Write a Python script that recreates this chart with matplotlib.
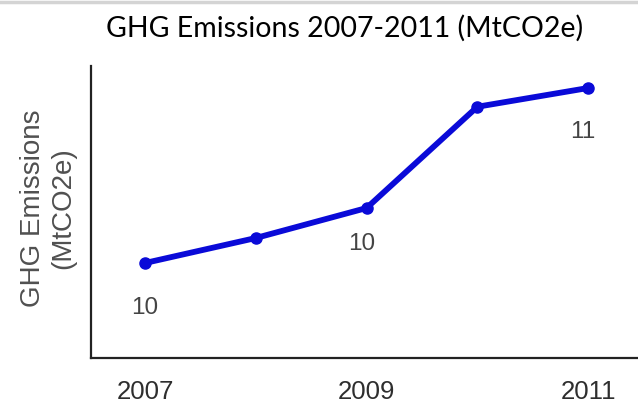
import matplotlib
matplotlib.use("Agg")
import matplotlib.pyplot as plt
from matplotlib.lines import Line2D

# data
years = [2007, 2008, 2009, 2010, 2011]
emissions = [10.0, 10.2, 10.44, 11.25, 11.4]
labelled_years = [2007, 2009, 2011]
label_offsets = [(0, -45), (-5, -36), (-5, -44)]  # pixels below the point
tick_years = [2007, 2009, 2011]

fig = plt.figure(figsize=(6.38, 4.05), dpi=100)
ax = fig.add_axes([91 / 638, 47 / 405, 1 - 91 / 638, 292 / 405])

ax.plot(years, emissions, color="#0a0ad8", linewidth=4.2, marker="o",
        markersize=8, solid_capstyle="round", zorder=3)

for yr, off in zip(labelled_years, label_offsets):
    val = emissions[years.index(yr)]
    ax.annotate(f"{val:.0f}", (yr, val), xytext=off, textcoords="offset pixels",
                ha="center", va="center", fontsize=17.5, color="#444444",
                family="Liberation Sans")

ax.set_xlim(2006.512, 2011.45)
ax.set_ylim(9.24, 11.576)
ax.set_xticks(tick_years)
ax.set_xticklabels([str(y) for y in tick_years], fontsize=18.5, color="#2e2e2e",
                   family="Liberation Sans")
ax.tick_params(axis="x", length=0, pad=16)
ax.set_yticks([])

for side in ["top", "right"]:
    ax.spines[side].set_visible(False)
for side in ["left", "bottom"]:
    ax.spines[side].set_linewidth(1.6)
    ax.spines[side].set_color("#222222")

fig.text(33 / 638, 1 - 208 / 405, "GHG Emissions", rotation=90, ha="center",
         va="center", fontsize=20, color="#505050", family="Liberation Sans")
fig.text(63 / 638, 1 - 208 / 405, "(MtCO2e)", rotation=90, ha="center",
         va="center", fontsize=20, color="#505050", family="Liberation Sans")

fig.text(344.5 / 638, 1 - 28 / 405, "GHG Emissions 2007-2011 (MtCO2e)",
         ha="center", va="center", fontsize=20.5, color="black", family="Lato")

# thin grey strip along the top edge, as in the screenshot
fig.add_artist(Line2D([0, 1], [0.996, 0.996], transform=fig.transFigure,
                      color="#d4d4d4", linewidth=2.5))

fig.savefig("out.png", dpi=100)
